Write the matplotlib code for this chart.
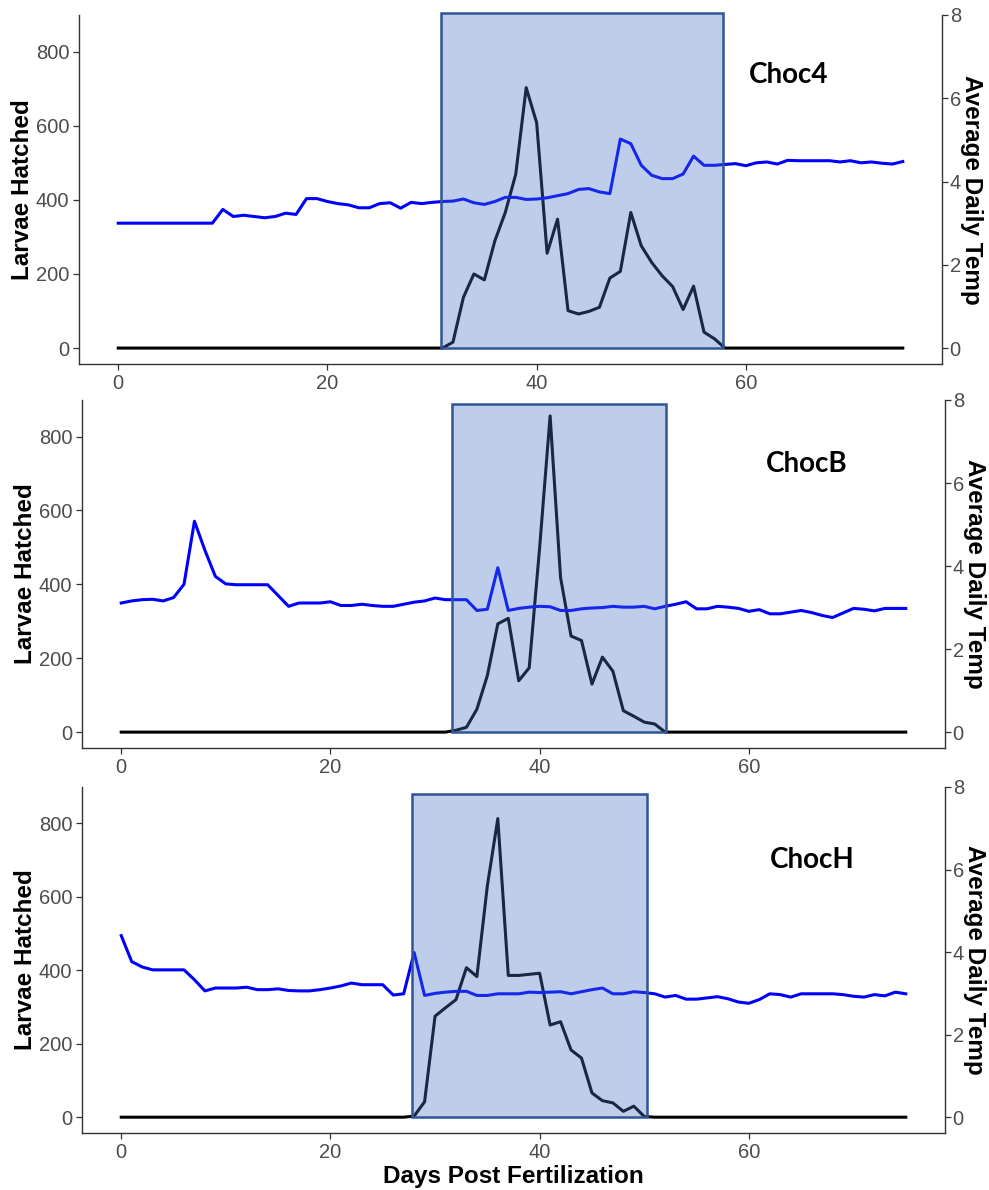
import numpy as np
import matplotlib.pyplot as plt
from matplotlib.patches import Rectangle

# days post fertilization
days = np.arange(76)

# larvae hatched per day
choc4_larvae = [0] * 32 + [16, 137, 200, 184, 289, 366, 469, 703, 608, 256, 348, 101, 92,
                           99, 110, 189, 207, 366, 276, 231, 195, 166, 104, 167, 43, 25] + [0] * 18
chocb_larvae = [0] * 32 + [5, 13, 62, 153, 293, 308, 139, 174, 500, 856, 418, 260, 248,
                           130, 203, 165, 58, 43, 27, 22] + [0] * 24
choch_larvae = [0] * 28 + [3, 42, 275, 298, 320, 407, 383, 630, 813, 386, 386, 389, 392,
                           251, 260, 183, 161, 66, 45, 39, 16, 30, 2] + [0] * 25

# average daily temperature
choc4_temp = [3.00, 3.00, 3.00, 3.00, 3.00, 3.00, 3.00, 3.00, 3.00, 3.00,
              3.33, 3.16, 3.19, 3.16, 3.13, 3.16, 3.24, 3.21, 3.59, 3.59,
              3.52, 3.47, 3.44, 3.37, 3.37, 3.47, 3.49, 3.36, 3.50, 3.47,
              3.50, 3.52, 3.53, 3.58, 3.49, 3.45, 3.52, 3.62, 3.62, 3.57,
              3.58, 3.61, 3.66, 3.71, 3.81, 3.83, 3.75, 3.71, 5.02, 4.91,
              4.39, 4.15, 4.07, 4.07, 4.18, 4.61, 4.39, 4.39, 4.41, 4.43,
              4.38, 4.45, 4.47, 4.42, 4.51, 4.50, 4.50, 4.50, 4.50, 4.47,
              4.50, 4.45, 4.47, 4.44, 4.42, 4.48]
chocb_temp = [3.11, 3.16, 3.19, 3.20, 3.16, 3.24, 3.56, 5.08, 4.38, 3.75,
              3.57, 3.55, 3.55, 3.55, 3.55, 3.29, 3.03, 3.11, 3.11, 3.11,
              3.14, 3.05, 3.05, 3.08, 3.05, 3.03, 3.03, 3.08, 3.13, 3.16,
              3.23, 3.19, 3.19, 3.19, 2.93, 2.96, 3.96, 2.93, 2.98, 3.01,
              3.03, 3.02, 2.93, 2.93, 2.97, 2.99, 3.00, 3.03, 3.01, 3.01,
              3.03, 2.97, 3.03, 3.08, 3.14, 2.97, 2.97, 3.03, 3.01, 2.98,
              2.91, 2.95, 2.85, 2.85, 2.89, 2.93, 2.88, 2.81, 2.76, 2.87,
              2.98, 2.96, 2.92, 2.98, 2.98, 2.98]
choch_temp = [4.40, 3.77, 3.64, 3.57, 3.57, 3.57, 3.57, 3.33, 3.06, 3.13,
              3.13, 3.13, 3.15, 3.09, 3.09, 3.11, 3.07, 3.06, 3.06, 3.09,
              3.13, 3.18, 3.25, 3.21, 3.21, 3.21, 2.96, 2.99, 3.99, 2.95,
              3.00, 3.03, 3.05, 3.05, 2.95, 2.95, 2.99, 2.99, 2.99, 3.03,
              3.02, 3.03, 3.04, 2.99, 3.04, 3.09, 3.13, 2.99, 2.99, 3.04,
              3.02, 2.99, 2.91, 2.95, 2.86, 2.86, 2.89, 2.92, 2.87, 2.79,
              2.76, 2.85, 2.99, 2.97, 2.91, 2.99, 2.99, 2.99, 2.99, 2.97,
              2.93, 2.91, 2.97, 2.94, 3.03, 2.99]

sites = ['Choc4', 'ChocB', 'ChocH']
larvae = [choc4_larvae, chocb_larvae, choch_larvae]
temps = [choc4_temp, chocb_temp, choch_temp]
# hatching window (start day, end day, top in larvae units)
windows = [(30.9, 57.8, 905), (31.6, 52.05, 887), (27.75, 50.3, 879)]
label_pos = [(64.1, 738), (65.5, 727), (66.1, 700)]

W, H = 989, 1190
# panel boxes in pixels: left, top, right, bottom
boxes = [(79, 15, 942, 364), (82, 400, 945, 748), (82, 787, 945, 1133)]

fig = plt.figure(figsize=(W / 100, H / 100), dpi=100)
plt.rcParams['font.family'] = ['Liberation Sans', 'DejaVu Sans']

tick_col = '#4D4D4D'
line_col = '#333333'
scale = 112.4  # larvae units per degree

for i in range(3):
    l, t, r, b = boxes[i]
    ax = fig.add_axes([l / W, (H - b) / H, (r - l) / W, (b - t) / H])
    ax2 = ax.twinx()

    ax.plot(days, larvae[i], color='black', lw=2.2, solid_joinstyle='round')
    ax2.plot(days, temps[i], color='#0000FF', lw=2.2, solid_joinstyle='round')

    ax.set_xlim(-3.75, 78.75)
    ax.set_ylim(-43, 899)
    ax2.set_ylim(-43 / scale, 899 / scale)
    ax.set_xticks([0, 20, 40, 60])
    ax.set_yticks([0, 200, 400, 600, 800])
    ax2.set_yticks([0, 2, 4, 6, 8])

    for a in (ax, ax2):
        a.spines['top'].set_visible(False)
        for s in a.spines.values():
            s.set_color(line_col)
            s.set_linewidth(1.0)
        a.tick_params(colors=line_col, labelcolor=tick_col, labelsize=14.5,
                      length=4, width=0.9, pad=3)
    ax2.tick_params(axis='y', pad=1.5)
    ax.spines['right'].set_visible(False)
    ax2.spines['left'].set_visible(False)
    ax2.spines['bottom'].set_visible(False)

    ax.set_ylabel('Larvae Hatched', fontsize=17.5, fontweight='bold', labelpad=1)
    ax2.set_ylabel('Average Daily Temp', fontsize=17.5, fontweight='bold',
                   rotation=270, va='bottom', labelpad=-1)

    x0, x1, top = windows[i]
    ax2.add_patch(Rectangle((x0, 0), x1 - x0, top, transform=ax.transData,
                            facecolor=(0x44 / 255, 0x72 / 255, 0xC4 / 255, 0.35),
                            edgecolor='#2F5597', lw=1.8, zorder=5, clip_on=False))

    lx, ly = label_pos[i]
    ax.text(lx, ly, sites[i], fontsize=20, fontweight='bold', family=['Lato', 'DejaVu Sans'],
            ha='center', va='center', zorder=10)

    if i == 2:
        ax.set_xlabel('Days Post Fertilization', fontsize=17.5, fontweight='bold', labelpad=2)

fig.savefig('out.png', dpi=100)
